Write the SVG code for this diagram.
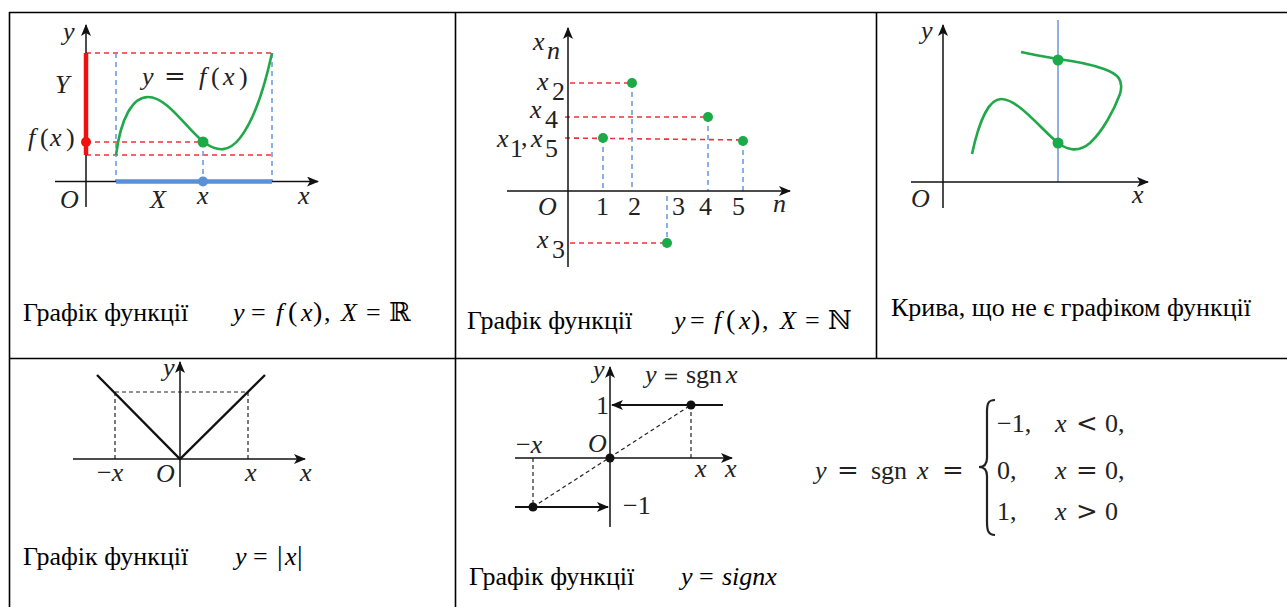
<svg xmlns="http://www.w3.org/2000/svg" width="1287" height="607" viewBox="0 0 1287 607">
<defs>
<style>
.border{stroke:#000;stroke-width:1.6;fill:none}
.axis{stroke:#111;stroke-width:1.5;fill:none}
.cap{font-family:'Liberation Serif','Times New Roman',serif;font-size:26px;fill:#000}
.mi{font-style:italic}
.m{font-family:'Liberation Serif','Times New Roman',serif;font-size:26px;fill:#222}
.mit{font-family:'Liberation Serif','Times New Roman',serif;font-size:26px;font-style:italic;fill:#222}
.op{font-family:'DejaVu Serif',serif;font-style:normal}
.reddash{stroke:#f0303a;stroke-width:1.6;stroke-dasharray:5,4;fill:none}
.bluedash{stroke:#6f9de0;stroke-width:1.6;stroke-dasharray:5,4;fill:none}
.blkdash{stroke:#222;stroke-width:1.2;stroke-dasharray:4,3;fill:none}
.green{stroke:#21a84a;stroke-width:2.6;fill:none}
.gdot{fill:#1aaa48}
</style>
<marker id="ah" viewBox="0 0 12 10" refX="11" refY="5" markerWidth="12" markerHeight="10" markerUnits="userSpaceOnUse" orient="auto">
<path d="M0,0 L12,5 L0,10 L3,5 z" fill="#111"/>
</marker>
</defs>

<g id="table">
<line class="border" x1="9" y1="12.5" x2="1287" y2="12.5"/>
<line class="border" x1="9.5" y1="12" x2="9.5" y2="607"/>
<line class="border" x1="455.5" y1="12" x2="455.5" y2="607"/>
<line class="border" x1="876.5" y1="12" x2="876.5" y2="358"/>
<line class="border" x1="9" y1="358.5" x2="1287" y2="358.5"/>
</g>

<g id="panel1">
<line class="reddash" x1="86" y1="53" x2="272" y2="53"/>
<line class="reddash" x1="86" y1="142" x2="203" y2="142"/>
<line class="reddash" x1="86" y1="155" x2="272" y2="155"/>
<line class="bluedash" x1="116" y1="53" x2="116" y2="181"/>
<line class="bluedash" x1="272" y1="53" x2="272" y2="181"/>
<line class="bluedash" x1="203" y1="142" x2="203" y2="181"/>
<line class="axis" x1="55" y1="181.5" x2="318" y2="181.5" marker-end="url(#ah)"/>
<line class="axis" x1="86" y1="207" x2="86" y2="25" marker-end="url(#ah)"/>
<line x1="86" y1="53" x2="86" y2="155" stroke="#f01010" stroke-width="4.5"/>
<line x1="116" y1="181.5" x2="272" y2="181.5" stroke="#5b8fd6" stroke-width="4.5"/>
<circle cx="86" cy="142" r="5" fill="#f01010"/>
<circle cx="203" cy="181.5" r="5" fill="#5b8fd6"/>
<path class="green" d="M116,155 C121,117 133,97 148,97 C168,97 188,131 205,143 C218,152 229,152 240,138 C254,120 264,90 272,53"/>
<circle class="gdot" cx="203" cy="142" r="5.5"/>
<text class="mit" x="63" y="40" font-size="28">y</text>
<text class="mit" x="55" y="93" font-size="30">Y</text>
<text class="mit" x="28" y="146" font-size="28">f<tspan x="40" font-style="normal">(</tspan><tspan x="50">x</tspan><tspan x="66" font-style="normal">)</tspan></text>
<text class="mit" x="142" y="85" font-size="28">y<tspan x="164" class="op" font-size="26">=</tspan><tspan x="199">f</tspan><tspan x="211" font-style="normal">(</tspan><tspan x="223">x</tspan><tspan x="239" font-style="normal">)</tspan></text>
<text class="mit" x="60" y="208">O</text>
<text class="mit" x="150" y="208">X</text>
<text class="mit" x="197" y="204">x</text>
<text class="mit" x="298" y="204">x</text>
<text class="cap" x="23" y="321">Графік функції <tspan class="mi" x="233">y</tspan><tspan x="251">=</tspan><tspan class="mi" x="276">f</tspan><tspan x="288" font-size="28">(</tspan><tspan class="mi" x="301">x</tspan><tspan x="313" font-size="28">)</tspan><tspan x="324">,</tspan><tspan class="mi" x="341">X</tspan><tspan x="366">=</tspan><tspan x="389" style="font-family:'DejaVu Serif',serif">ℝ</tspan></text>
</g>

<g id="panel2">
<line class="reddash" x1="570" y1="83" x2="632" y2="83"/>
<line class="reddash" x1="565" y1="117" x2="708" y2="117"/>
<line class="reddash" x1="565" y1="138" x2="743" y2="140"/>
<line class="reddash" x1="570" y1="243" x2="667" y2="243"/>
<line class="bluedash" x1="603" y1="138" x2="603" y2="191"/>
<line class="bluedash" x1="632" y1="83" x2="632" y2="191"/>
<line class="bluedash" x1="708" y1="117" x2="708" y2="191"/>
<line class="bluedash" x1="743" y1="141" x2="743" y2="191"/>
<line class="bluedash" x1="667" y1="196" x2="667" y2="243"/>
<line class="axis" x1="507" y1="191" x2="790" y2="191" marker-end="url(#ah)"/>
<line class="axis" x1="568" y1="267" x2="568" y2="28" marker-end="url(#ah)"/>
<circle class="gdot" cx="632" cy="83" r="5"/>
<circle class="gdot" cx="708" cy="117" r="5"/>
<circle class="gdot" cx="603" cy="138" r="5"/>
<circle class="gdot" cx="743" cy="141" r="5"/>
<circle class="gdot" cx="667" cy="243" r="5"/>
<text class="mit" x="533" y="50">x</text><text class="mit" x="547" y="59" font-size="18">n</text>
<text class="mit" x="537" y="90">x</text><text class="m" x="552" y="100" font-size="18">2</text>
<text class="mit" x="530" y="118">x</text><text class="m" x="545" y="128" font-size="18">4</text>
<text class="mit" x="497" y="147">x</text><text class="m" x="510" y="157" font-size="18">1</text><text class="m" x="521" y="146">,</text><text class="mit" x="531" y="147">x</text><text class="m" x="545" y="157" font-size="18">5</text>
<text class="mit" x="537" y="248">x</text><text class="m" x="552" y="258" font-size="18">3</text>
<text class="mit" x="538" y="215">O</text>
<text class="m" x="596" y="215">1</text>
<text class="m" x="628" y="215">2</text>
<text class="m" x="672" y="215">3</text>
<text class="m" x="699" y="215">4</text>
<text class="m" x="732" y="215">5</text>
<text class="mit" x="773" y="212">n</text>
<text class="cap" x="467" y="329">Графік функції <tspan class="mi" x="674">y</tspan><tspan x="690">=</tspan><tspan class="mi" x="714">f</tspan><tspan x="726" font-size="28">(</tspan><tspan class="mi" x="739">x</tspan><tspan x="751" font-size="28">)</tspan><tspan x="762">,</tspan><tspan class="mi" x="780">X</tspan><tspan x="805">=</tspan><tspan x="828" style="font-family:'DejaVu Serif',serif">ℕ</tspan></text>
</g>

<g id="panel3">
<line x1="1058" y1="20" x2="1058" y2="182" stroke="#86a9dc" stroke-width="1.8"/>
<line class="axis" x1="911" y1="182" x2="1148" y2="182" marker-end="url(#ah)"/>
<line class="axis" x1="943" y1="208" x2="943" y2="25" marker-end="url(#ah)"/>
<path class="green" d="M972,154 C979,121 989,99 1001,99 C1018,99 1040,128 1058,143 C1068,150 1078,153 1090,143 C1103,131 1114,110 1120,94 C1124,80 1118,74 1104,69 C1090,64 1074,61 1058,59 C1046,57 1034,55 1021,52"/>
<circle class="gdot" cx="1058" cy="60" r="5.5"/>
<circle class="gdot" cx="1058" cy="143" r="5.5"/>
<text class="mit" x="921" y="39" font-size="28">y</text>
<text class="mit" x="911" y="207" font-size="28">O</text>
<text class="mit" x="1132" y="203" font-size="28">x</text>
<text class="cap" x="891" y="316">Крива, що не є графіком функції</text>
</g>

<g id="panel4">
<line class="blkdash" x1="115" y1="392" x2="248" y2="392"/>
<line class="blkdash" x1="115" y1="392" x2="115" y2="459"/>
<line class="blkdash" x1="248" y1="392" x2="248" y2="459"/>
<line class="axis" x1="73" y1="459" x2="305" y2="459" stroke-width="1.3" marker-end="url(#ah)"/>
<line class="axis" x1="180" y1="487" x2="180" y2="362" stroke-width="1.3" marker-end="url(#ah)"/>
<polyline points="97,375 180,459 265,375" fill="none" stroke="#111" stroke-width="2.4"/>
<text class="mit" x="163" y="376" font-size="20">y</text>
<text class="mit" x="97" y="481" font-size="20"><tspan font-style="normal">−</tspan>x</text>
<text class="mit" x="156" y="482" font-size="21">O</text>
<text class="mit" x="245" y="481" font-size="20">x</text>
<text class="mit" x="300" y="481" font-size="20">x</text>
<text class="cap" x="23" y="565">Графік функції <tspan class="mi" x="235">y</tspan><tspan x="253">=</tspan><tspan x="277" font-size="28">|</tspan><tspan class="mi" x="285">x</tspan><tspan x="297" font-size="28">|</tspan></text>
</g>

<g id="panel5">
<line class="blkdash" x1="533" y1="507" x2="691" y2="405"/>
<line class="blkdash" x1="691" y1="405" x2="691" y2="458"/>
<line class="blkdash" x1="533" y1="458" x2="533" y2="507"/>
<line class="axis" x1="515" y1="458" x2="732" y2="458" stroke-width="1.3" marker-end="url(#ah)"/>
<line class="axis" x1="610" y1="527" x2="610" y2="367" stroke-width="1.3" marker-end="url(#ah)"/>
<line x1="723" y1="405" x2="612" y2="405" stroke="#111" stroke-width="2.2" marker-end="url(#ah)"/>
<line x1="515" y1="507" x2="608" y2="507" stroke="#111" stroke-width="2.2" marker-end="url(#ah)"/>
<circle cx="691" cy="405" r="4.5" fill="#111"/>
<circle cx="533" cy="507" r="4.5" fill="#111"/>
<circle cx="610" cy="458" r="4.5" fill="#111"/>
<text class="mit" x="593" y="378" font-size="20">y</text>
<text class="mit" x="645" y="383" font-size="20">y<tspan x="663" class="op" font-size="19">=</tspan><tspan x="686" font-style="normal">sgn</tspan><tspan x="726">x</tspan></text>
<text class="m" x="596" y="414" font-size="21">1</text>
<text class="mit" x="588" y="452" font-size="20">O</text>
<text class="mit" x="516" y="453" font-size="20"><tspan font-style="normal">−</tspan>x</text>
<text class="mit" x="695" y="477" font-size="20">x</text>
<text class="mit" x="725" y="477" font-size="20">x</text>
<text class="m" x="623" y="514" font-size="21">−1</text>
<text class="cap" x="469" y="585">Графік функції <tspan class="mi" x="681">y</tspan><tspan x="699">=</tspan><tspan class="mi" x="722">signx</tspan></text>
</g>

<g id="formula">
<text class="mit" x="815" y="479" font-size="28">y<tspan x="837" class="op" font-size="26">=</tspan><tspan x="871" font-style="normal">sgn</tspan><tspan x="917">x</tspan><tspan x="942" class="op" font-size="26">=</tspan></text>
<path d="M995,400 C988,400 987,404 987,412 L987,458 C987,465 984,467 979,467 C984,467 987,469 987,476 L987,522 C987,530 988,535 995,535" fill="none" stroke="#222" stroke-width="2.2"/>
<text class="m" x="997" y="432" font-size="28">−1,</text>
<text class="mit" x="1055" y="432" font-size="28">x<tspan x="1076" class="op" font-size="26">&lt;</tspan><tspan x="1105" font-style="normal">0,</tspan></text>
<text class="m" x="997" y="479" font-size="28">0,</text>
<text class="mit" x="1055" y="479" font-size="28">x<tspan x="1076" class="op" font-size="26">=</tspan><tspan x="1105" font-style="normal">0,</tspan></text>
<text class="m" x="997" y="520" font-size="28">1,</text>
<text class="mit" x="1055" y="520" font-size="28">x<tspan x="1076" class="op" font-size="26">&gt;</tspan><tspan x="1105" font-style="normal">0</tspan></text>
</g>
</svg>
